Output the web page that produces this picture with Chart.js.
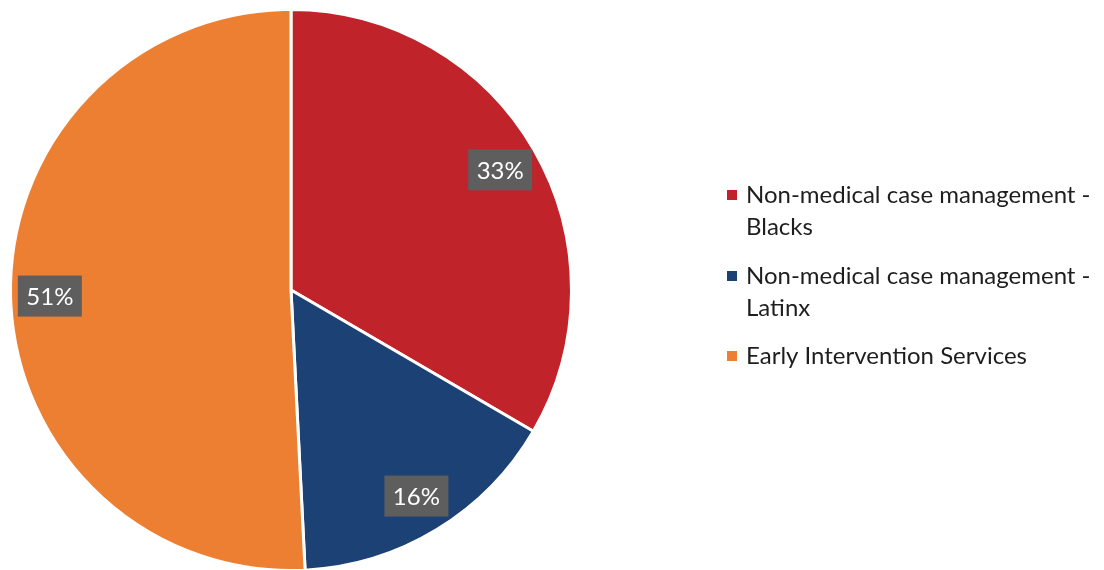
<!DOCTYPE html>
<html>
<head>
<meta charset="utf-8">
<script src="https://cdn.jsdelivr.net/npm/chart.js@4/dist/chart.umd.min.js"></script>
<style>
  html, body { margin: 0; padding: 0; background: #fff; overflow: hidden; }
  #wrap { position: relative; width: 1104px; height: 582px; }
</style>
</head>
<body>
<div id="wrap"><canvas id="c"></canvas></div>
<script>
const categories = [
  ["Non-medical case management -", "Blacks"],
  ["Non-medical case management -", "Latinx"],
  ["Early Intervention Services"]
];
const values = [33.4, 15.8, 50.8];
const valueLabels = ["33%", "16%", "51%"];
const colors = ["#C1232A", "#1C4174", "#ED7F32"];

const FONT = "Lato, 'Open Sans', sans-serif";

const labelPlugin = {
  id: 'boxLabels',
  afterDatasetsDraw(chart) {
    const ctx = chart.ctx;
    const meta = chart.getDatasetMeta(0);
    ctx.save();
    ctx.font = "24px " + FONT;
    ctx.textAlign = "center";
    ctx.textBaseline = "middle";
    meta.data.forEach((arc, i) => {
      const p = arc.getProps(['x','y','startAngle','endAngle','outerRadius'], true);
      const mid = (p.startAngle + p.endAngle) / 2;
      const r = p.outerRadius * 0.86;
      const cx = p.x + Math.cos(mid) * r;
      const cy = p.y + Math.sin(mid) * r;
      const w = 64, h = 41;
      ctx.fillStyle = "#5E5E5E";
      ctx.fillRect(cx - w/2, cy - h/2, w, h);
      ctx.fillStyle = "#FFFFFF";
      ctx.fillText(valueLabels[i], cx, cy + 1);
    });
    ctx.restore();
  }
};

const legendPlugin = {
  id: 'sideLegend',
  afterDraw(chart) {
    const ctx = chart.ctx;
    ctx.save();
    ctx.font = "24px " + FONT;
    ctx.textBaseline = "middle";
    ctx.textAlign = "left";
    const lineH = 32;
    const starts = [195, 276, 356];
    categories.forEach((lines, i) => {
      const y0 = starts[i];
      ctx.fillStyle = colors[i];
      ctx.fillRect(727, y0 - 5, 10, 10);
      ctx.fillStyle = "#1E1E1E";
      lines.forEach((t, j) => ctx.fillText(t, 746, y0 + j * lineH));
    });
    ctx.restore();
  }
};

new Chart(document.getElementById('c'), {
  type: 'pie',
  data: {
    labels: categories.map(l => l.join(' ')),
    datasets: [{
      data: values,
      backgroundColor: colors,
      borderColor: "#FFFFFF",
      borderWidth: 3
    }]
  },
  options: {
    responsive: true,
    maintainAspectRatio: false,
    animation: false,
    layout: { padding: { left: 8, top: 8, right: 530, bottom: 10 } },
    plugins: { legend: { display: false }, tooltip: { enabled: false } }
  },
  plugins: [labelPlugin, legendPlugin]
});
</script>
</body>
</html>
